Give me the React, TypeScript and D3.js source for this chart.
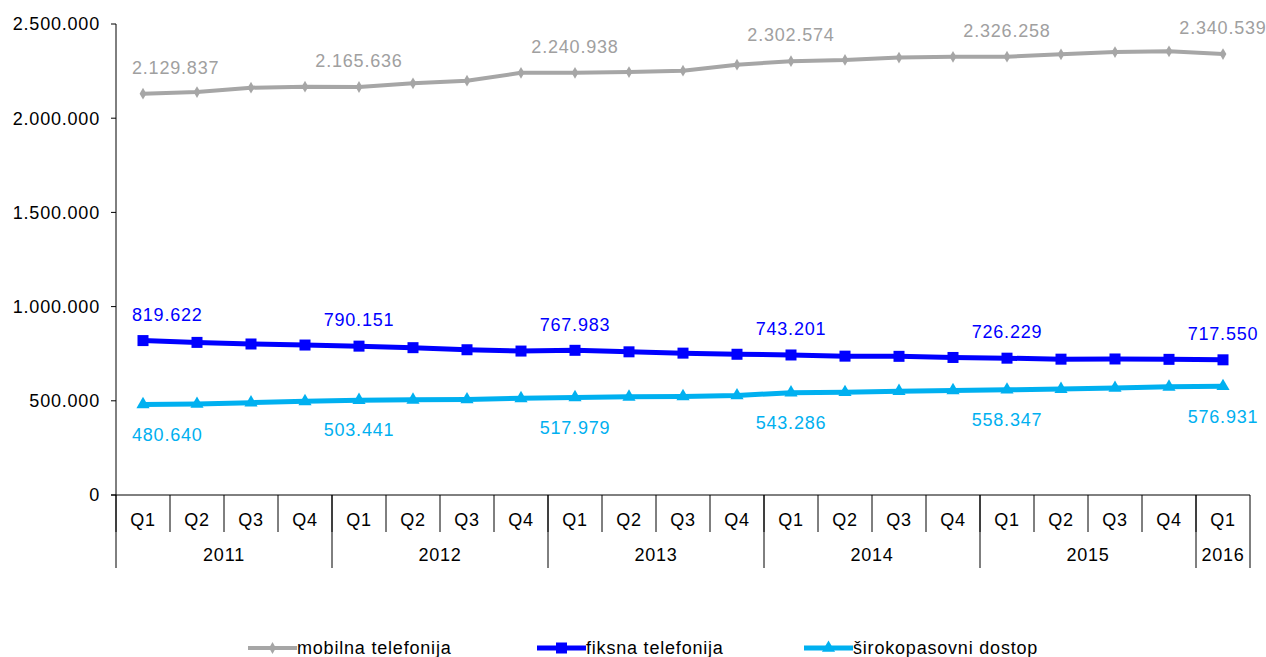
import React from "react";
import * as d3 from "d3";

// quarters Q1 2011 .. Q1 2016
const quarters = [
  "Q1", "Q2", "Q3", "Q4",
  "Q1", "Q2", "Q3", "Q4",
  "Q1", "Q2", "Q3", "Q4",
  "Q1", "Q2", "Q3", "Q4",
  "Q1", "Q2", "Q3", "Q4",
  "Q1",
];
const years = [
  { label: "2011", count: 4 },
  { label: "2012", count: 4 },
  { label: "2013", count: 4 },
  { label: "2014", count: 4 },
  { label: "2015", count: 4 },
  { label: "2016", count: 1 },
];

const mobilna = [
  2129837, 2139000, 2162000, 2167000,
  2165636, 2185000, 2199000, 2241000,
  2240938, 2245000, 2252000, 2284000,
  2302574, 2309000, 2322000, 2326000,
  2326258, 2339000, 2351000, 2355000,
  2340539,
];
const fiksna = [
  819622, 810000, 801500, 796000,
  790151, 782000, 771000, 764000,
  767983, 760000, 753000, 747000,
  743201, 737000, 736000, 730000,
  726229, 721000, 722000, 720000,
  717550,
];
const sirokopasovni = [
  480640, 483000, 490000, 497000,
  503441, 505000, 507000, 513000,
  517979, 521000, 523000, 528000,
  543286, 545000, 551000, 555000,
  558347, 562000, 568000, 574000,
  576931,
];

const yTicks = [0, 500000, 1000000, 1500000, 2000000, 2500000];
// labels shown every fourth quarter (Q1s)
const labelEvery = 4;

const fmt = (v: number) => d3.format(",")(v).replace(/,/g, ".");

const FONT = "'Liberation Sans', Arial, sans-serif";
const LS = 0.8;

const margin = { left: 116, right: 1250, top: 24, bottom: 495 };

type Series = {
  name: string;
  values: number[];
  color: string;
  labelColor: string;
  width: number;
  marker: "diamond" | "square" | "triangle";
  labelPos: "above" | "below";
};

const series: Series[] = [
  { name: "mobilna telefonija", values: mobilna, color: "#a6a6a6", labelColor: "#a0a0a0", width: 4, marker: "diamond", labelPos: "above" },
  { name: "fiksna telefonija", values: fiksna, color: "#0000ff", labelColor: "#0000ff", width: 5, marker: "square", labelPos: "above" },
  { name: "širokopasovni dostop", values: sirokopasovni, color: "#00b0f0", labelColor: "#00b0f0", width: 5, marker: "triangle", labelPos: "below" },
];

function Marker({ type, x, y, color }: { type: string; x: number; y: number; color: string }) {
  if (type === "square") {
    return <rect x={x - 5.5} y={y - 5.5} width={11} height={11} fill={color} />;
  }
  if (type === "triangle") {
    const sym = d3.symbol().type(d3.symbolTriangle).size(75)();
    return <path d={sym || ""} transform={`translate(${x},${y})`} fill={color} />;
  }
  const sym = d3.symbol().type(d3.symbolDiamond).size(40)();
  return <path d={sym || ""} transform={`translate(${x},${y})`} fill={color} />;
}

export default function App() {
  const idx = quarters.map((_, i) => i);
  const x = d3.scaleBand<number>().domain(idx).range([margin.left, margin.right]);
  const y = d3.scaleLinear().domain([0, 2500000]).range([margin.bottom, margin.top]);
  const cx = (i: number) => (x(i) || 0) + x.bandwidth() / 2;

  const line = d3
    .line<number>()
    .x((_, i) => cx(i))
    .y((d) => y(d));

  // year boundaries
  let acc = 0;
  const yearBlocks = years.map((yr) => {
    const start = acc;
    acc += yr.count;
    return { ...yr, x0: x(start) || 0, x1: (x(start) || 0) + yr.count * x.bandwidth() };
  });

  const legendItems = [
    { s: series[0], x: 248 },
    { s: series[1], x: 537 },
    { s: series[2], x: 804 },
  ];

  return (
    <svg width={1266} height={657} style={{ position: "absolute", left: 0, top: 0, background: "#fff" }} fontFamily={FONT}>
      {/* y axis */}
      <line x1={margin.left} x2={margin.left} y1={margin.top} y2={margin.bottom} stroke="#000" strokeWidth={1} />
      {yTicks.map((t) => (
        <g key={t}>
          <line x1={margin.left - 5} x2={margin.left} y1={y(t)} y2={y(t)} stroke="#000" />
          <text x={100} y={y(t)} dy="0.35em" textAnchor="end" fontSize={18} letterSpacing={LS} fill="#000">
            {fmt(t)}
          </text>
        </g>
      ))}

      {/* x axis */}
      <line x1={margin.left - 5} x2={margin.right} y1={margin.bottom} y2={margin.bottom} stroke="#000" />
      {idx.map((i) => (
        <g key={i}>
          <line x1={x(i)} x2={x(i)} y1={margin.bottom} y2={532} stroke="#000" />
          <text x={cx(i)} y={520} dy="0.35em" textAnchor="middle" fontSize={18} letterSpacing={LS} fill="#000">
            {quarters[i]}
          </text>
        </g>
      ))}
      {yearBlocks.map((b) => (
        <g key={b.label}>
          <line x1={b.x0} x2={b.x0} y1={margin.bottom} y2={568} stroke="#000" />
          <text x={(b.x0 + b.x1) / 2} y={555} dy="0.35em" textAnchor="middle" fontSize={18} letterSpacing={LS} fill="#000">
            {b.label}
          </text>
        </g>
      ))}
      <line x1={margin.right} x2={margin.right} y1={margin.bottom} y2={568} stroke="#000" />

      {/* series */}
      {series.map((s) => (
        <g key={s.name}>
          <path d={line(s.values) || ""} fill="none" stroke={s.color} strokeWidth={s.width} strokeLinejoin="round" />
          {s.values.map((v, i) => (
            <Marker key={i} type={s.marker} x={cx(i)} y={y(v)} color={s.color} />
          ))}
          {s.values.map((v, i) =>
            i % labelEvery === 0 ? (
              <text
                key={"l" + i}
                x={i === 0 ? margin.left + 16 : cx(i)}
                y={s.labelPos === "above" ? y(v) - 26 : y(v) + 30}
                dy="0.35em"
                textAnchor={i === 0 ? "start" : "middle"}
                fontSize={18}
                letterSpacing={LS}
                fill={s.labelColor}
              >
                {fmt(v)}
              </text>
            ) : null
          )}
        </g>
      ))}

      {/* legend */}
      {legendItems.map(({ s, x: lx }) => (
        <g key={s.name}>
          <line x1={lx} x2={lx + 49} y1={648} y2={648} stroke={s.color} strokeWidth={s.width} />
          <Marker type={s.marker} x={lx + 24.5} y={648} color={s.color} />
          <text x={lx + 49} y={648} dy="0.35em" fontSize={18} letterSpacing={LS} fill="#000">
            {s.name}
          </text>
        </g>
      ))}
    </svg>
  );
}
